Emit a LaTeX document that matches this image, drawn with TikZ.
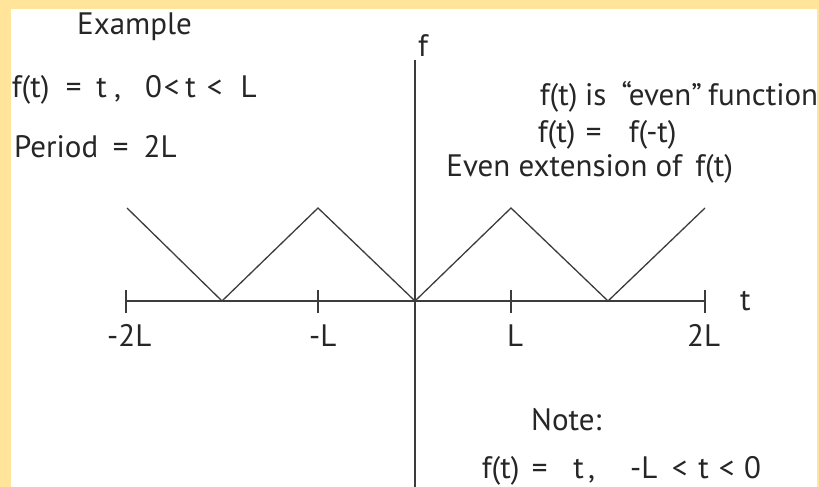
\documentclass[tikz,border=0pt]{standalone}
\usepackage{fontspec}
\setmainfont{PT Sans}
\definecolor{frameyellow}{RGB}{255,228,153}
\definecolor{ink}{RGB}{38,38,38}
\definecolor{lineink}{RGB}{60,60,60}
% place a token centred at a given offset (pt) from the start of the node
\newcommand{\tok}[2]{\rlap{\hspace{#1pt}\makebox[0pt]{#2}}}
\begin{document}
\begin{tikzpicture}[x=1pt,y=-1pt,
  txt/.style={anchor=base west, inner sep=0pt, text=ink, font=\fontsize{31}{37}\selectfont},
  ln/.style={draw=lineink, line width=1.3pt},
  tk/.style={draw=lineink, line width=1.3pt}]
\fill[frameyellow] (0,0) rectangle (819,487);
\fill[white] (11,9) rectangle (817,487);
\useasboundingbox (0,0) rectangle (819,487);
% axes
\coordinate (xl) at (126,301);
\coordinate (xr) at (705,301);
\coordinate (yt) at (415,60);
\coordinate (yb) at (415,487);
\draw[ln] (xl) -- (xr);
\draw[ln] (yt) -- (yb);
% ticks
\foreach \n/\x in {m2/126, m1/318, p1/511, p2/705}{
  \coordinate (t\n a) at (\x,290);
  \coordinate (t\n b) at (\x,313);
  \draw[tk] (t\n a) -- (t\n b);
}
% wave
\coordinate (w0) at (127,208);
\coordinate (w1) at (222,301);
\coordinate (w2) at (318,208);
\coordinate (w3) at (415,301);
\coordinate (w4) at (511,208);
\coordinate (w5) at (608,301);
\coordinate (w6) at (705,208);
\draw[ln, line join=miter] (w0) -- (w1) -- (w2) -- (w3) -- (w4) -- (w5) -- (w6);
% texts
\node[txt] (ex) at (77,35) {Example};
\node[txt] (def) at (12,97) {\tok{18}{f(t)}\tok{61}{=}\tok{89}{t}\tok{105}{,}\tok{141}{0}\tok{159}{<}\tok{178}{t}\tok{202}{<}\tok{236}{L}\hspace{245pt}};
\node[txt] (per) at (13,157) {\tok{42.5}{Period}\tok{107}{=}\tok{146.5}{2L}\hspace{162pt}};
\node[txt] (fl) at (418,57) {f};
\node[txt] (ev) at (540,105) {\tok{18}{f(t)}\tok{55}{is}\tok{121}{“even”}\tok{222.5}{function}\hspace{277pt}};
\node[txt] (ft) at (540,142) {\tok{16}{f(t)}\tok{53}{=}\tok{112}{f(-t)}\hspace{140pt}};
\node[txt] (ext) at (450,176) {\tok{113.5}{Even extension of}\tok{263.5}{f(t)}\hspace{285pt}};
\node[txt] (tl) at (740,310) {t};
\node[txt] (lm2) at (107,346) {-2L};
\node[txt] (lm1) at (309,346) {-L};
\node[txt] (lp1) at (507,346) {L};
\node[txt] (lp2) at (687,346) {2L};
\node[txt] (note) at (531,430) {Note:};
\node[txt] (neg) at (482,478) {\tok{18}{f(t)}\tok{57}{=}\tok{96}{t}\tok{109}{,}\tok{161}{-L}\tok{197}{<}\tok{221}{t}\tok{244}{<}\tok{270}{0}\hspace{280pt}};
\end{tikzpicture}
\end{document}
